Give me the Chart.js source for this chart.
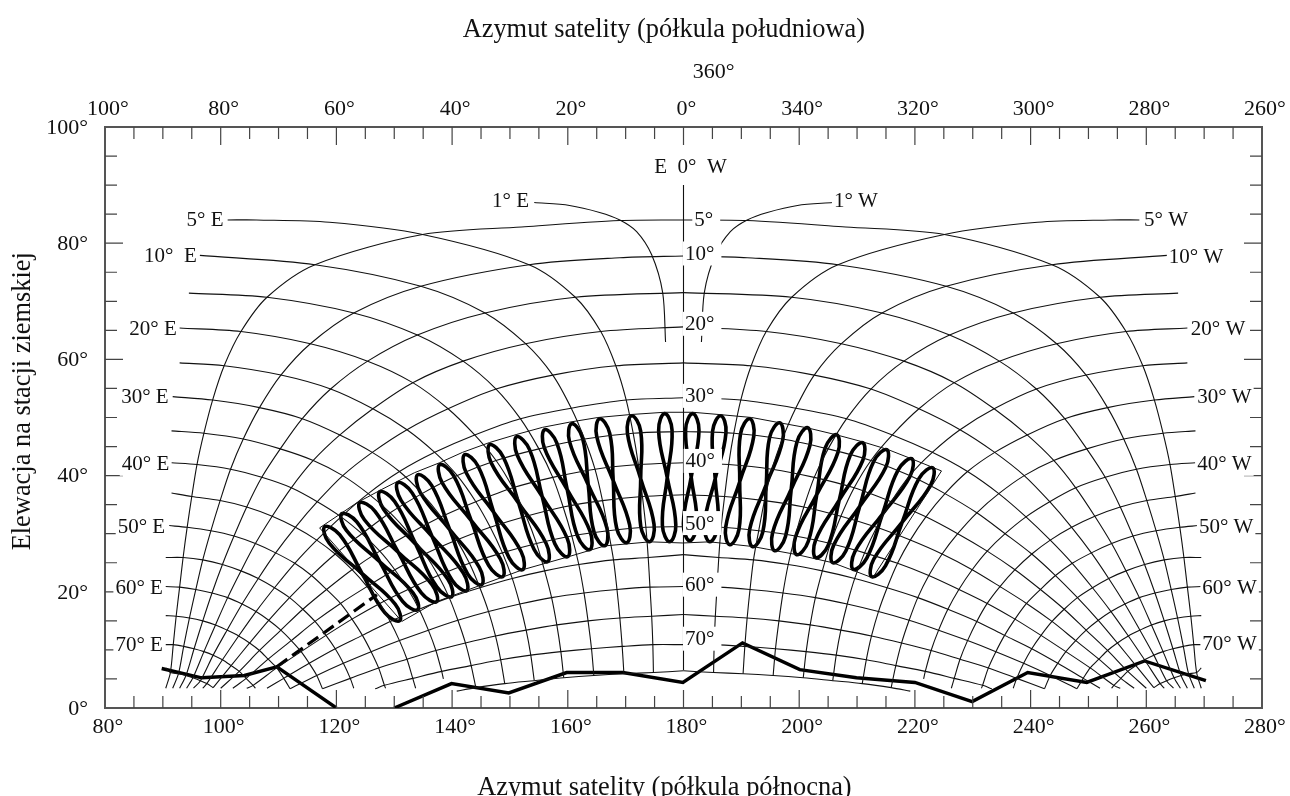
<!DOCTYPE html>
<html>
<head>
<meta charset="utf-8">
<style>
html,body{margin:0;padding:0;background:#fff}
canvas{display:block}
</style>
<script src="https://cdn.jsdelivr.net/npm/chart.js@4/dist/chart.umd.min.js"></script>
</head>
<body>
<canvas id="myChart" width="1290" height="796"></canvas>
<script>
// grid, east half, pairs are [azimuth distance from 180, elevation]
var latCenter = [84,77.8,71.5,65.6,59.4,53.4,47.6,42.2,36.7,31.2,26.4,20.9,16.1,10.9,6.4]; //elevation where each latitude line meets 180
var lat5Shoulder = [[11,83.9],[28,82.8]];
var lat10Shoulder = [[11,77.5]];
var lon5Shoulder = [[78.8,84],[73.8,84],[61.2,83.6]];
var lonStart = [null,[83.6,77.9],[85.5,71.4],[87.1,65.4],[87.1,59.4],[88.3,53.6],[88.5,47.7],[88.5,42.2],[88.5,37],[88.9,31.4],[89.5,25.9],[89.5,20.9],[89.5,15.9],[89.5,10.9],[89.5,6.9]];
var lon1 = [[25.8,87],[19.7,86.5],[14.5,85.3],[11,84],[8.1,82],[5.5,78],[3.6,71.5],[3.1,63]];

// one row per latitude line (5,10..75), one column per longitude difference (5,10..75)
var lat5 = [[45.1,81.5],[63.7,76.3],[72,70.7],[76.5,64.8],[79.4,58.9],[81.4,53],[82.9,47.3],[84.1,41.9],[85,36.4],[85.8,31.1],[86.5,25.9],[87.1,20.8],[87.7,15.8],[88.2,10.9],[88.7,6.1]];
var lat10 = [[26.7,76.3],[45.4,72.6],[57,68],[64.5,62.7],[69.6,57.3],[73.3,51.7],[76.1,46.3],[78.3,41.1],[80.1,35.7],[81.7,30.5],[83.1,25.5],[84.3,20.4],[85.4,15.5],[86.4,10.6],[87.3,5.9]];
var lat15 = [[18.7,70.7],[34.3,68],[46,64.2],[54.6,59.7],[61,54.9],[65.9,49.8],[69.7,44.6],[72.9,39.7],[75.5,34.6],[77.7,29.6],[79.7,24.7],[81.5,19.8],[83.1,15],[84.6,10.2],[86,5.6]];
var lat20 = [[14.3,64.8],[27.3,62.7],[38.1,59.7],[46.8,56],[53.7,51.5],[59.4,47],[64,42.6],[67.8,37.9],[71.1,33],[74,28.3],[76.5,23.6],[78.8,19],[80.9,14.3],[82.9,9.7],[84.8,5.2]];
var lat25 = [[11.7,58.9],[22.6,57.3],[32.4,54.9],[40.7,51.5],[47.8,47.9],[53.8,44],[58.9,40],[63.3,35.5],[67.1,31.1],[70.5,26.7],[73.5,22.3],[76.3,17.9],[78.9,13.4],[81.3,9.1],[83.5,4.7]];
var lat30 = [[9.9,53],[19.4,51.6],[28.2,49.8],[36.1,47],[43,44],[49.1,40.7],[54.5,36.9],[59.2,32.9],[63.4,28.9],[67.2,24.9],[70.7,20.7],[73.9,16.6],[76.9,12.4],[79.7,8.3],[82.4,4.2]];
var lat35 = [[8.7,47.3],[17.1,46.3],[25,44.6],[32.4,42.6],[39.1,40],[45.2,36.9],[50.7,33.6],[55.6,30],[60.2,26.5],[64.3,22.8],[68.1,19],[71.7,15.1],[75,11.2],[78.2,7.3],[81.3,3.5]];
var lat40 = [[7.8,41.9],[15.3,41.1],[22.6,39.7],[29.5,37.9],[35.9,35.5],[41.9,32.9],[47.4,30],[52.5,27],[57.3,23.8],[61.7,20.4],[65.8,17],[69.6,13.4],[73.3,9.9],[76.8,6.3]];
var lat45 = [[7.1,36.4],[14,35.7],[20.8,34.6],[27.2,33],[33.4,31.1],[39.2,28.9],[44.7,26.5],[49.9,23.8],[54.7,20.9],[59.3,18],[63.7,14.9],[67.8,11.6],[71.8,8.4],[75.6,5.1]];
var lat50 = [[6.5,31.1],[13,30.5],[19.3,29.6],[25.4,28.3],[31.3,26.7],[37,24.9],[42.4,22.8],[47.6,20.4],[52.5,18],[57.3,15.3],[61.8,12.5],[66.1,9.7],[70.3,6.9],[74.4,3.9]];
var lat55 = [[6.1,25.9],[12.1,25.5],[18.1,24.7],[24,23.6],[29.6,22.3],[35.2,20.7],[40.5,19],[45.7,17],[50.7,14.9],[55.5,12.5],[60.2,10.2],[64.7,7.7],[69.1,5.1]];
var lat60 = [[5.8,20.8],[11.5,20.4],[17.2,19.8],[22.8,19],[28.3,17.9],[33.7,16.6],[39,15.1],[44.1,13.4],[49.1,11.6],[54,9.7],[58.8,7.7],[63.4,5.6],[68,3.3]];
var lat65 = [[5.5,15.8],[11,15.5],[16.5,15],[21.9,14.3],[27.2,13.4],[32.5,12.4],[37.7,11.2],[42.8,9.9],[47.8,8.4],[52.7,6.9],[57.6,5.1],[62.4,3.3]];
var lat70 = [[5.3,10.9],[10.6,10.6],[15.9,10.2],[21.2,9.7],[26.4,9.1],[31.6,8.3],[36.7,7.3],[41.8,6.3],[46.8,5.1],[51.7,3.9]];
var lat75 = [[5.2,6.1],[10.3,5.9],[15.5,5.6],[20.7,5.2],[25.8,4.7],[30.9,4.2],[35.9,3.5]];
var gridRows = [lat5,lat10,lat15,lat20,lat25,lat30,lat35,lat40,lat45,lat50,lat55,lat60,lat65,lat70,lat75];
var latEnd = [[89.5,3.4],[88.3,3.4],[87.1,3.4],[85.9,3.4],[84.7,3.4],[83.1,3.4],null,[80,3.4],[77.9,3.4],[75.5,3.4],[72,3.4],null,null,[53.3,3.3],[39.2,2.9]];
var lonEnd = [null,null,null,null,null,null,null,[41.5,5],[46.3,3.4],[51.5,3.4],[57,3.4],null,null,[74,3.4],null];

// service area outline, real azimuths
var serviceArea = [[117.1,31],[123.5,35.3],[127.8,37.6],[133.5,40.5],[137.8,42.2],[141.8,44],[146.5,45.7],[151.2,47.1],[155.6,48.3],[160.3,49.2],[165.2,50],[170.7,50.5],[176.7,50.9],[181.6,50.9],[186.3,50.5],[191.8,50],[196.6,49.1],[201.5,48.2],[206.5,47],[211,45.8],[215.3,44.5],[219.4,42.9],[224.6,40.8],[212.7,22.4],[205.8,25],[199.6,26.4],[191.9,27.8],[184.5,28.6],[179.9,28.4],[174.2,28.6],[166.4,27.9],[160,26],[152.2,23.8],[145.1,21.2],[137.3,18.3],[131.3,14.9],[117.1,31]];

// figure of eight loops, each one starts at its crossing
var loops = [
[[124.46,23.12],[128.36,16.4],[130.94,15.03],[130.16,17.86],[124.46,23.12],[118.76,28.37],[117.98,31.2],[120.56,29.83]],
[[127.49,25.18],[131.44,18.34],[134.05,16.92],[133.24,19.8],[127.49,25.18],[121.73,30.56],[120.92,33.44],[123.53,32.02]],
[[130.68,26.82],[134.68,19.8],[137.33,18.3],[136.52,21.24],[130.68,26.82],[124.84,32.4],[124.03,35.34],[126.68,33.84]],
[[133.71,28.2],[137.35,20.85],[139.93,19.16],[139.27,22.17],[133.71,28.2],[128.15,34.22],[127.49,37.23],[130.07,35.54]],
[[136.56,29.49],[140,21.99],[142.52,20.19],[141.94,23.23],[136.56,29.49],[131.18,35.74],[130.6,38.78],[133.12,36.98]],
[[139.59,30.69],[142.68,23.1],[145.12,21.22],[144.68,24.26],[139.59,30.69],[134.49,37.11],[134.05,40.15],[136.49,38.27]],
[[143.31,32.24],[146.32,24.54],[148.75,22.6],[148.34,25.68],[143.31,32.24],[138.27,38.8],[137.86,41.88],[140.29,39.94]],
[[147.19,33.7],[149.86,25.84],[152.2,23.8],[151.94,26.9],[147.19,33.7],[142.44,40.5],[142.18,43.6],[144.52,41.56]],
[[151.51,35.25],[154.18,27.29],[156.52,25.18],[156.26,28.31],[151.51,35.25],[146.76,42.19],[146.5,45.32],[148.84,43.21]],
[[155.58,36.37],[157.76,28.27],[159.98,26.04],[159.9,29.19],[155.58,36.37],[151.25,43.55],[151.17,46.7],[153.39,44.47]],
[[159.9,37.58],[161.71,29.52],[163.8,27.25],[163.87,30.34],[159.9,37.58],[155.93,44.81],[156,47.9],[158.09,45.63]],
[[163.53,38.43],[164.52,30.35],[166.38,27.93],[166.76,30.97],[163.53,38.43],[160.29,45.89],[160.67,48.93],[162.53,46.51]],
[[167.85,39.12],[168.44,30.98],[170.18,28.45],[170.7,31.46],[167.85,39.12],[164.99,46.78],[165.51,49.79],[167.25,47.26]],
[[172.6,39.47],[172.61,31.28],[174.16,28.62],[174.91,31.6],[172.6,39.47],[170.3,47.33],[171.05,50.31],[172.6,47.65]],
[[177.19,39.64],[176.35,31.45],[177.62,28.62],[178.67,31.53],[177.19,39.64],[175.7,47.75],[176.75,50.66],[178.02,47.83]],
[[181.33,39.73],[179.98,31.67],[181.07,28.8],[182.3,31.61],[181.33,39.73],[180.36,47.85],[181.59,50.66],[182.68,47.79]],
[[185.48,39.47],[183.62,31.55],[184.53,28.62],[185.94,31.33],[185.48,39.47],[185.02,47.6],[186.43,50.31],[187.34,47.38]],
[[189.72,38.95],[187.29,31.11],[187.99,28.11],[189.59,30.75],[189.72,38.95],[189.85,47.15],[191.45,49.79],[192.15,46.79]],
[[194.3,38.43],[191.44,30.77],[191.96,27.76],[193.7,30.29],[194.3,38.43],[194.89,46.57],[196.63,49.1],[197.15,46.09]],
[[198.62,37.66],[195.39,30.12],[195.77,27.07],[197.63,29.52],[198.62,37.66],[199.61,45.79],[201.47,48.24],[201.85,45.19]],
[[203.03,36.72],[199.36,29.43],[199.57,26.39],[201.58,28.71],[203.03,36.72],[204.48,44.72],[206.49,47.04],[206.7,44]],
[[206.92,35.77],[202.84,28.89],[202.86,25.87],[205,27.99],[206.92,35.77],[208.84,43.54],[210.98,45.66],[211,42.64]],
[[210.47,34.73],[205.96,28.03],[205.8,25],[208.06,27.03],[210.47,34.73],[212.87,42.43],[215.13,44.46],[214.97,41.43]],
[[214.4,33.39],[209.62,26.89],[209.34,23.87],[211.68,25.81],[214.4,33.39],[217.11,40.97],[219.45,42.91],[219.17,39.89]],
[[217.81,31.98],[212.89,25.61],[212.53,22.6],[214.91,24.47],[217.81,31.98],[220.7,39.49],[223.08,41.36],[222.72,38.35]]
];

// bold horizon line and the dashed link up to the loops
var horizonWest = [[89.8,6.8],[96.7,5.2],[104.1,5.6],[109.7,7.1],[120,0]];
var horizonEast = [[130,0],[139.9,4.2],[149.8,2.6],[159.8,6.1],[169.5,6.1],[179.9,4.4],[190.2,11.2],[200.1,6.6],[209.9,5.2],[220,4.4],[229.9,1.1],[239.5,6.1],[249.7,4.4],[259.7,8.1],[270.3,4.7]];
var linkDashed = [[109.7,7.1],[127,19.5]];
var axis180 = [[180,90],[180,6.5]];

var topTickLabels = ["100°","80°","60°","40°","20°","0°","340°","320°","300°","280°","260°"];

// curve labels: text, azimuth, elevation
var eastLabels = ["5° E","10°  E","20° E","30° E","40° E","50° E","60° E","70° E","1° E"];
var eastLabelAz = [97.3,91.3,88.3,86.9,87,86.3,85.9,85.9,150.1];
var eastLabelEl = [84.2,78,65.5,53.8,42.2,31.5,20.9,11.1,87.5];
var westLabels = ["5° W","10° W","20° W","30° W","40° W","50° W","60° W","70° W","1° W"];
var westLabelAz = [263.4,268.6,272.4,273.5,273.5,273.8,274.4,274.4,209.8];
var westLabelEl = [84.2,77.8,65.5,53.8,42.2,31.4,20.9,11.2,87.5];
var midLabels = ["5°","10°","20°","30°","40°","50°","60°","70°"];
var midLabelAz = [183.5,182.8,182.8,182.8,182.9,182.8,182.8,182.8];
var midLabelEl = [84.2,78.4,66.3,53.9,42.7,32,21.4,12.1];

var serif = "'Liberation Serif','Times New Roman',serif";

function curveSet(points, width, extra) {
	var set = {data: points, borderColor: '#111', borderWidth: width, pointRadius: 0, tension: 0.3, fill: false, showLine: true, xAxisID: 'x', yAxisID: 'y'};
	for (var k in extra) set[k] = extra[k];
	return set;
}
function east(p) { return p.map(function (q) { return [180 - q[0], q[1]]; }); }
function west(p) { return p.map(function (q) { return [180 + q[0], q[1]]; }); }

var datasets = [];
// latitude lines
gridRows.forEach(function (row, i) {
	var line = [[0, latCenter[i]]];
	if (i == 0) line = line.concat(lat5Shoulder);
	if (i == 1) line = line.concat(lat10Shoulder);
	line = line.concat(row);
	if (latEnd[i]) line.push(latEnd[i]);
	datasets.push(curveSet(east(line), 1.1));
	datasets.push(curveSet(west(line), 1.1));
});
// longitude lines are the columns of the same table
for (var j = 0; j < 15; j++) {
	var line = j == 0 ? lon5Shoulder.slice() : [lonStart[j]];
	gridRows.forEach(function (row) { if (row[j]) line.push(row[j]); });
	if (lonEnd[j]) line.push(lonEnd[j]);
	datasets.push(curveSet(east(line), 1.1));
	datasets.push(curveSet(west(line), 1.1));
}
datasets.push(curveSet(east(lon1), 1.1));
datasets.push(curveSet(west(lon1), 1.1));
datasets.push(curveSet(axis180, 1.1, {tension: 0}));
datasets.push(curveSet(serviceArea, 1, {tension: 0}));
loops.forEach(function (loop) {
	datasets.push(curveSet(loop.concat([loop[0]]), 3.6, {tension: 0.45, borderColor: '#000'}));
});
datasets.push(curveSet(horizonWest, 3.4, {tension: 0, borderColor: '#000'}));
datasets.push(curveSet(horizonEast, 3.4, {tension: 0, borderColor: '#000'}));
datasets.push(curveSet(linkDashed, 3.2, {tension: 0, borderColor: '#000', borderDash: [13, 6]}));

// inward tick marks, labels with their white boxes, and free text
var decorations = {
	id: 'decorations',
	afterDatasetsDraw: function (chart) {
		var c = chart.ctx, xs = chart.scales.x, ys = chart.scales.y, a = chart.chartArea, v, len, px;
		c.save();
		c.strokeStyle = '#444';
		c.lineWidth = 1.2;
		c.beginPath();
		for (v = 85; v < 280; v += 5) {
			len = (v - 80) % 20 == 0 ? 18 : 12;
			px = xs.getPixelForValue(v);
			c.moveTo(px, a.bottom); c.lineTo(px, a.bottom - len);
			c.moveTo(px, a.top); c.lineTo(px, a.top + len);
		}
		for (v = 5; v < 100; v += 5) {
			len = v % 20 == 0 ? 18 : 12;
			px = ys.getPixelForValue(v);
			c.moveTo(a.left, px); c.lineTo(a.left + len, px);
			c.moveTo(a.right, px); c.lineTo(a.right - len, px);
		}
		c.stroke();

		c.fillStyle = '#111';
		c.textAlign = 'center';
		c.textBaseline = 'middle';
		c.font = '21px ' + serif;
		function boxed(text, az, el, padR) {
			var w = c.measureText(text).width, x = xs.getPixelForValue(az), y = ys.getPixelForValue(el) + 2;
			c.fillStyle = '#fff';
			c.fillRect(x - w / 2 - 2, y - 13, w + 2 + padR, 24);
			c.fillStyle = '#111';
			c.fillText(text, x, y);
		}
		eastLabels.forEach(function (t, i) { boxed(t, eastLabelAz[i], eastLabelEl[i], 2); });
		westLabels.forEach(function (t, i) { boxed(t, westLabelAz[i], westLabelEl[i], 2); });
		midLabels.forEach(function (t, i) { boxed(t, midLabelAz[i], midLabelEl[i], 7); });
		c.fillText("E  0°  W", xs.getPixelForValue(181.2), ys.getPixelForValue(93.3) + 2);

		c.font = '22px ' + serif;
		c.fillText("360°", xs.getPixelForValue(185.2), ys.getPixelForValue(109.7) + 2);

		c.font = '26.4px ' + serif;
		c.fillText("Azymut satelity (półkula południowa)", xs.getPixelForValue(176.6), ys.getPixelForValue(117) + 2);
		c.fillText("Azymut satelity (półkula północna)", xs.getPixelForValue(176.7), ys.getPixelForValue(-13.4) + 2);
		c.translate(xs.getPixelForValue(65.8), ys.getPixelForValue(52.8));
		c.rotate(-Math.PI / 2);
		c.fillText("Elewacja na stacji ziemskiej", 0, 0);
		c.restore();
	}
};

function fixSize(prop, size) {
	return function (scale) { scale[prop] = size; };
}
var tickFont = {family: serif, size: 22};
var frame = {display: true, color: '#555', width: 2};

var chart = new Chart(document.getElementById('myChart').getContext('2d'), {
	type: 'scatter',
	data: {datasets: datasets},
	options: {
		responsive: false,
		animation: false,
		events: [],
		layout: {padding: 0},
		plugins: {legend: {display: false}, tooltip: {enabled: false}, title: {display: false}},
		scales: {
			x: {
				type: 'linear', position: 'bottom', min: 80, max: 280,
				grid: {display: false, drawTicks: false}, border: frame,
				ticks: {stepSize: 20, autoSkip: false, maxRotation: 0, color: '#111', font: tickFont, padding: 6, labelOffset: 3,
					callback: function (v) { return v + '°'; }},
				afterFit: fixSize('height', 88)
			},
			xTop: {
				type: 'linear', axis: 'x', position: 'top', min: 80, max: 280,
				grid: {display: false, drawTicks: false}, border: frame,
				ticks: {stepSize: 20, autoSkip: false, maxRotation: 0, color: '#111', font: tickFont, padding: 5, labelOffset: 3,
					callback: function (v, i) { return topTickLabels[i]; }},
				afterFit: fixSize('height', 127)
			},
			y: {
				type: 'linear', position: 'left', min: 0, max: 100,
				grid: {display: false, drawTicks: false}, border: frame,
				ticks: {stepSize: 20, color: '#111', font: tickFont, padding: 17, labelOffset: 1,
					callback: function (v) { return v + '°'; }},
				afterFit: fixSize('width', 105)
			},
			yRight: {
				type: 'linear', axis: 'y', position: 'right', min: 0, max: 100,
				grid: {display: false, drawTicks: false}, border: frame,
				ticks: {display: false},
				afterFit: fixSize('width', 28)
			}
		}
	},
	plugins: [decorations]
});
</script>
</body>
</html>
